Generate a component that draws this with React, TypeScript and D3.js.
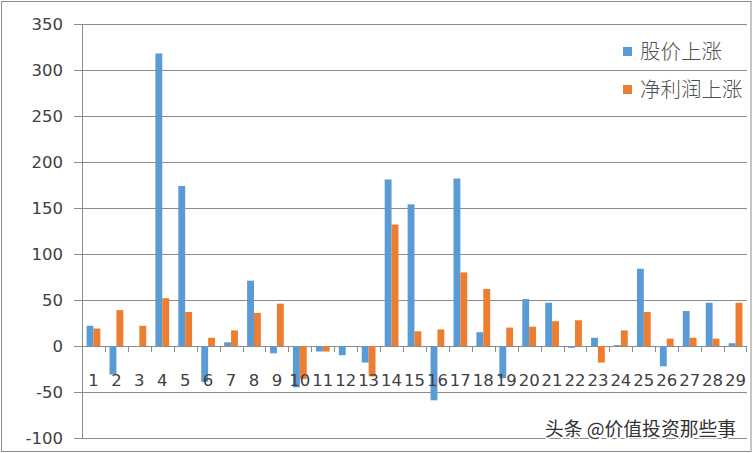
import React from "react";
import * as d3 from "d3";

const categories = Array.from({ length: 29 }, (_, i) => String(i + 1));
const stockRise = [22, -31, 0, 318, 174, -39, 4, 71, -8, -45, -6, -10, -18, 181, 154, -59, 182, 15, -35, 51, 47, -2, 9, 1, 84, -22, 38, 47, 3];
const profitRise = [19, 39, 22, 52, 37, 9, 17, 36, 46, -36, -6, 0, -33, 132, 16, 18, 80, 62, 20, 21, 27, 28, -18, 17, 37, 8, 9, 8, 47];
const yTicks = [-100, -50, 0, 50, 100, 150, 200, 250, 300, 350];
const seriesNames = ["股价上涨", "净利润上涨"];
const colors = ["#5B9BD5", "#ED7D31"];

export default function App() {
  const W = 753, H = 453;
  const left = 82, right = 747, top = 24, bottom = 438;
  const x = d3.scaleBand<string>().domain(categories).range([left, right]).paddingInner(0).paddingOuter(0);
  const y = d3.scaleLinear().domain([-100, 350]).range([bottom, top]);
  const bw = x.bandwidth();
  const barW = bw * 0.3;
  const offset = (bw - 2 * barW) / 2;
  const font = "'DejaVu Sans', sans-serif";
  const textColor = "#404040";
  const series = [stockRise, profitRise];
  return (
    <svg width={W} height={H} style={{ position: "absolute", left: 0, top: 0, background: "#fff" }}>
      <rect x={1.5} y={1.5} width={749.5} height={450} fill="#fff" stroke="#8c8c8c" strokeWidth={1} />
      {yTicks.map((t) => (
        <g key={t}>
          <line x1={74} x2={right} y1={Math.round(y(t)) + 0.5} y2={Math.round(y(t)) + 0.5} stroke="#8c8c8c" strokeWidth={1} />
          <text x={63} y={y(t)} dy="0.36em" textAnchor="end" fontFamily={font} fontSize={16.5} fill={textColor}>{t}</text>
        </g>
      ))}
      <line x1={left + 0.5} x2={left + 0.5} y1={top} y2={bottom} stroke="#8c8c8c" />
      {series.map((vals, si) =>
        vals.map((v, i) => {
          const x0 = (x(categories[i]) as number) + offset + si * barW;
          const y0 = y(Math.max(0, v));
          const h = Math.abs(y(v) - y(0));
          return <rect key={si + "-" + i} x={x0} y={y0} width={barW} height={h} fill={colors[si]} />;
        })
      )}
      {categories.map((c) => (
        <line key={"tk" + c} x1={Math.round(x(c) as number) + 0.5} x2={Math.round(x(c) as number) + 0.5} y1={y(0)} y2={y(0) + 6} stroke="#8c8c8c" />
      ))}
      <line x1={right - 0.5} x2={right - 0.5} y1={y(0)} y2={y(0) + 6} stroke="#8c8c8c" />
      {categories.map((c) => (
        <text key={"lb" + c} x={(x(c) as number) + bw / 2} y={380} dy="0.36em" textAnchor="middle" fontFamily={font} fontSize={16.5} fill={textColor}>{c}</text>
      ))}
      {seriesNames.map((n, i) => (
        <g key={n}>
          <rect x={623} y={47 + i * 38} width={9} height={9} fill={colors[i]} />
          <text x={640} y={52 + i * 38} dy="0.36em" fontFamily="'Noto Sans CJK SC', sans-serif" fontWeight={300} fontSize={20.5} fill="#505050">{n}</text>
        </g>
      ))}
      <text x={545} y={429} dy="0.36em" fontFamily="'Noto Sans CJK SC', sans-serif" fontSize={18.8} fill="#333" stroke="#fff" strokeWidth={3} paintOrder="stroke">头条 @价值投资那些事</text>
    </svg>
  );
}
